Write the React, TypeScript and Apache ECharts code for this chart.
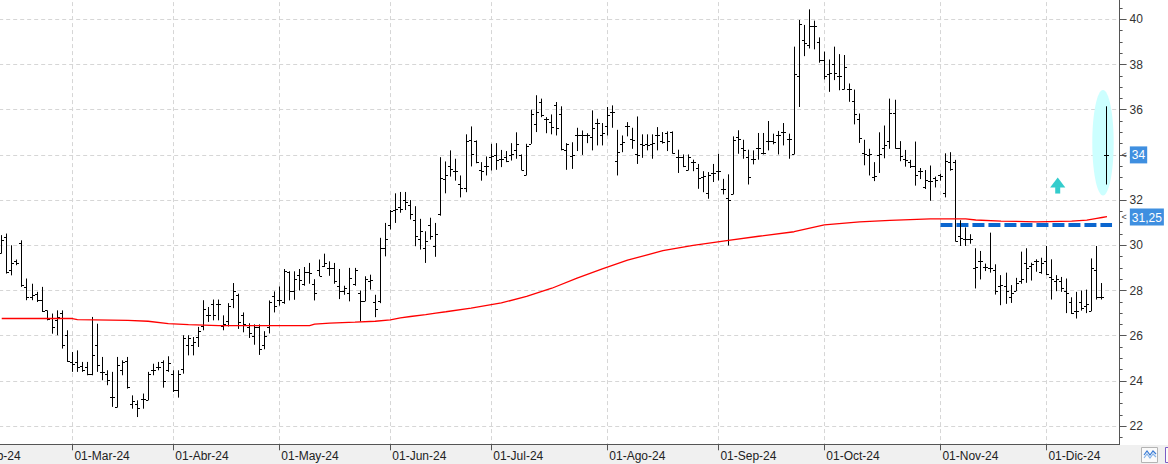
import React, { useEffect, useRef } from "react";
import * as echarts from "echarts";

// ---- OHLC values, one per session (Feb 12 2024 -> Dec 18 2024) ----
const opens = [
  29.65, 30.35, 28.9, 29.3, 30.1, 28.16, 27.71, 27.86, 27.6, 27.12,
  26.8, 26.71, 27.01, 26.02, 24.84, 24.84, 24.66, 24.62, 24.29, 25.58,
  24.4, 24.32, 23.29, 22.85, 24.47, 24.9, 22.96, 22.99, 23.22, 23.14,
  24.47, 24.62, 24.84, 24.47, 24.32, 23.61, 24.54, 25.58, 25.6, 25.94,
  26.42, 26.9, 27.39, 27.39, 26.42, 26.63, 27.62, 27.8, 26.9, 26.4,
  26.0, 26.4, 25.6, 26.4, 27.76, 27.6, 27.5, 28.8, 27.96, 28.7,
  28.3, 28.8, 28.3, 28.9, 29.1, 29.0, 29.0, 28.18, 28.0, 27.9,
  28.3, 27.9, 27.52, 28.4, 27.5, 27.52, 29.88, 30.9, 31.56, 31.7,
  32.0, 31.8, 31.1, 30.3, 29.9, 30.9, 29.96, 31.4, 32.94, 33.53,
  33.3, 32.7, 32.54, 34.64, 34.6, 33.34, 33.53, 33.9, 34.0, 33.8,
  33.9, 34.0, 34.2, 34.0, 33.1, 34.49, 35.38, 36.34, 35.6, 35.45,
  36.2, 35.8, 34.2, 33.95, 34.9, 34.86, 34.86, 34.8, 35.4, 34.9,
  35.3, 35.9, 33.75, 34.5, 35.26, 34.7, 34.02, 34.5, 34.5, 34.5,
  34.9, 34.6, 34.97, 35.0, 33.9, 33.9, 33.34, 33.7, 33.4, 33.0,
  32.3, 33.2, 33.3, 32.5, 32.1, 32.25, 34.8, 34.3, 33.9, 33.8,
  34.3, 34.1, 34.6, 34.6, 34.86, 35.0, 34.7, 34.02, 37.49, 39.1,
  38.86, 39.7, 39.0, 38.2, 37.6, 38.0, 37.5, 36.9, 36.9, 36.4,
  35.6, 34.1, 34.0, 33.0, 34.0, 34.3, 34.6, 35.87, 34.3, 33.8,
  33.67, 33.5, 33.3, 32.56, 32.86, 32.98, 33.1, 32.3, 33.7, 33.7,
  30.4, 30.3, 30.3, 29.0, 29.3, 29.04, 29.0, 28.9, 28.2, 28.2,
  27.7, 28.0, 28.4, 29.2, 29.1, 29.3, 28.83, 29.3, 28.6, 28.4,
  28.4, 28.0, 27.5, 27.1, 27.5, 27.3, 27.1, 28.9, 27.7, 34.0,
];
const highs = [
  30.45, 30.52, 30.0, 29.37, 30.22, 28.53, 28.3, 27.94, 28.16, 27.12,
  26.98, 27.12, 27.12, 26.24, 25.28, 25.35, 24.84, 24.84, 26.83, 26.53,
  25.06, 24.47, 24.4, 25.06, 24.91, 25.06, 23.36, 23.14, 23.44, 24.4,
  24.76, 24.84, 24.91, 25.09, 24.47, 24.47, 26.02, 26.02, 25.94, 26.39,
  27.57, 27.27, 27.6, 27.6, 26.9, 27.44, 28.33, 27.86, 27.03, 26.55,
  26.5, 26.5, 26.2, 27.56, 27.96, 28.18, 28.95, 28.85, 28.85, 28.95,
  29.04, 29.22, 28.5, 29.37, 29.63, 29.29, 29.22, 28.95, 28.21, 29.0,
  29.0, 28.0, 28.63, 28.7, 27.81, 30.33, 30.99, 31.56, 32.3, 32.36,
  32.36, 32.0, 31.73, 31.17, 30.62, 31.22, 30.99, 33.9, 33.71, 34.2,
  33.83, 33.09, 34.91, 35.26, 34.64, 33.68, 33.93, 34.49, 34.52, 34.22,
  34.17, 34.52, 35.0, 34.02, 34.49, 36.0, 36.64, 36.49, 35.67, 35.79,
  36.34, 36.15, 34.52, 34.56, 35.2, 35.08, 34.96, 35.97, 35.6, 35.41,
  36.12, 36.19, 35.11, 34.86, 35.45, 35.2, 35.7, 34.91, 34.91, 34.91,
  35.23, 35.01, 35.04, 35.04, 34.23, 34.02, 34.02, 33.79, 33.6, 33.28,
  33.24, 33.6, 34.05, 32.94, 33.14, 34.82, 35.09, 34.67, 34.23, 34.2,
  34.97, 34.97, 35.5, 34.94, 35.06, 35.41, 34.94, 38.79, 39.97, 39.75,
  40.44, 39.94, 39.2, 38.57, 38.22, 38.79, 38.46, 38.42, 37.16, 36.89,
  35.83, 34.67, 34.27, 33.68, 35.0, 35.3, 36.49, 36.44, 34.61, 34.22,
  33.78, 34.59, 33.42, 33.33, 33.53, 33.04, 33.16, 34.07, 34.12, 33.78,
  31.11, 30.79, 30.49, 29.87, 29.75, 29.19, 30.56, 29.16, 28.68, 28.79,
  28.24, 28.56, 29.72, 29.87, 29.23, 29.38, 29.45, 29.97, 29.38, 28.68,
  28.6, 28.53, 27.7, 27.94, 28.0, 28.04, 29.42, 29.97, 28.33, 36.15,
];
const lows = [
  29.63, 28.75, 28.67, 29.12, 28.16, 27.57, 27.57, 27.49, 27.05, 26.68,
  26.09, 26.02, 25.43, 24.84, 24.4, 24.4, 24.4, 24.25, 24.25, 24.4,
  24.03, 23.81, 22.85, 22.82, 24.25, 23.66, 22.77, 22.4, 22.77, 23.14,
  24.25, 24.47, 23.7, 24.4, 23.51, 23.26, 24.32, 25.13, 25.13, 25.5,
  26.24, 26.61, 26.68, 26.68, 26.24, 26.41, 27.22, 26.3, 26.15, 25.9,
  25.6, 25.15, 25.4, 26.1, 27.03, 27.33, 27.41, 27.56, 27.59, 28.0,
  28.21, 28.3, 27.56, 28.63, 29.04, 28.65, 28.3, 27.62, 27.81, 27.52,
  28.21, 26.63, 27.52, 28.04, 26.82, 27.44, 29.51, 30.7, 30.99, 31.44,
  31.56, 31.14, 29.96, 29.81, 29.22, 30.25, 29.49, 31.31, 32.3, 33.04,
  32.86, 32.12, 32.35, 33.49, 33.63, 32.86, 33.09, 33.31, 33.34, 33.46,
  33.68, 33.75, 33.83, 33.31, 33.09, 34.49, 35.01, 35.67, 34.96, 34.91,
  34.86, 34.2, 33.34, 33.38, 34.17, 34.0, 34.52, 34.2, 34.42, 34.42,
  34.86, 35.2, 33.09, 34.12, 34.82, 34.27, 33.6, 33.87, 34.2, 33.83,
  34.2, 34.5, 34.17, 34.05, 33.2, 33.46, 33.31, 33.28, 32.5, 32.35,
  32.06, 32.8, 32.87, 32.25, 29.99, 32.25, 34.05, 33.83, 32.69, 33.58,
  33.79, 34.02, 34.2, 34.47, 34.02, 34.42, 33.83, 34.02, 36.12, 38.37,
  38.71, 38.67, 38.08, 37.34, 36.79, 37.31, 36.86, 36.89, 36.35, 35.35,
  34.53, 33.54, 33.09, 32.84, 33.2, 33.85, 34.27, 34.27, 33.72, 33.48,
  33.42, 32.64, 32.93, 32.49, 31.97, 32.56, 32.86, 32.12, 33.3, 30.16,
  29.97, 29.97, 30.07, 28.09, 28.49, 28.86, 28.79, 27.82, 27.35, 27.41,
  27.45, 27.97, 28.3, 28.34, 28.44, 28.83, 28.74, 28.68, 27.6, 27.97,
  27.94, 27.0, 26.96, 26.76, 27.11, 27.0, 27.08, 27.6, 27.6, 32.69,
];
const closes = [
  30.22, 28.82, 29.2, 29.2, 28.25, 27.7, 27.79, 27.6, 27.1, 26.75,
  26.4, 26.83, 25.6, 24.9, 24.76, 24.6, 24.5, 24.3, 25.13, 24.7,
  24.4, 24.06, 23.3, 24.7, 24.84, 23.73, 23.1, 22.8, 23.2, 24.32,
  24.5, 24.62, 24.0, 24.8, 23.6, 24.32, 25.9, 25.9, 25.72, 26.2,
  27.2, 26.9, 26.9, 27.39, 26.5, 27.3, 28.0, 26.6, 26.5, 26.1,
  26.4, 25.4, 26.0, 27.5, 27.3, 27.59, 28.85, 27.96, 28.5, 28.48,
  28.8, 28.78, 27.9, 28.65, 29.22, 29.0, 28.4, 28.0, 28.1, 28.55,
  28.9, 27.52, 28.5, 28.48, 27.18, 29.88, 30.3, 31.5, 31.6, 31.6,
  31.9, 31.4, 30.4, 30.62, 30.2, 30.4, 30.52, 32.98, 33.1, 33.38,
  33.3, 32.54, 34.6, 34.05, 33.68, 33.3, 33.5, 33.95, 33.78, 33.8,
  33.75, 34.02, 34.49, 33.31, 34.4, 35.79, 35.9, 35.75, 35.6, 35.25,
  35.2, 34.24, 34.5, 34.0, 34.9, 34.86, 34.9, 35.2, 35.4, 34.96,
  35.75, 35.9, 34.12, 34.56, 35.26, 34.64, 34.0, 34.46, 34.46, 34.52,
  34.9, 34.56, 34.6, 34.1, 33.9, 33.5, 33.9, 33.7, 32.99, 33.05,
  33.1, 33.2, 33.28, 32.5, 32.0, 34.67, 34.72, 34.2, 33.0, 33.8,
  34.3, 34.1, 34.6, 34.55, 34.9, 35.0, 34.7, 37.57, 39.79, 38.96,
  39.7, 39.7, 38.2, 37.49, 37.63, 37.63, 37.5, 37.9, 36.9, 35.8,
  34.76, 34.05, 34.05, 33.05, 34.02, 34.46, 35.87, 34.3, 33.93, 33.78,
  33.53, 33.11, 33.3, 32.9, 32.86, 32.9, 33.08, 33.72, 33.38, 30.19,
  30.34, 30.3, 30.27, 29.04, 29.3, 29.04, 28.98, 28.0, 28.24, 27.97,
  27.9, 28.34, 28.53, 28.98, 29.16, 29.3, 29.2, 28.74, 28.49, 28.49,
  28.12, 27.9, 27.0, 27.08, 27.23, 27.4, 28.98, 27.7, 27.72, 34.0,
];

// ---- moving average (red line), read at session indexes ----
const maPoints: [number, number][] = [
  [0, 26.76], [14, 26.76], [15, 26.71], [25, 26.68], [29, 26.64], [33, 26.53],
  [37, 26.49], [43, 26.45], [61, 26.45], [62, 26.51], [65, 26.56], [70, 26.6],
  [74, 26.64], [77, 26.7], [79, 26.79], [81, 26.85], [84, 26.93], [86, 27.0],
  [88, 27.06], [93, 27.22], [99, 27.45], [104, 27.74], [109, 28.1], [114, 28.55],
  [119, 28.96], [124, 29.34], [131, 29.76], [137, 30.0], [144, 30.22], [150, 30.4],
  [157, 30.6], [163, 30.9], [170, 31.04], [176, 31.1], [184, 31.17], [191, 31.17],
  [193, 31.12], [198, 31.07], [205, 31.04], [212, 31.07], [215, 31.11], [217, 31.19],
  [218, 31.23], [219, 31.27],
];
const maLastLabel = 31.25;
const lastCloseLabel = 34;

// ---- annotations ----
const supportLine: [number, number][] = [[186, 30.9], [220, 30.9]];
const highlightAt: [number, number][] = [[219, 34.54]];
const arrowAt: [number, number][] = [[209, 32.29]];

// ---- calendar of sessions ----
const MONTHS = ["Ene", "Feb", "Mar", "Abr", "May", "Jun", "Jul", "Ago", "Sep", "Oct", "Nov", "Dic"];
const holidays = ["2024-03-29", "2024-04-01", "2024-05-01"];
const firstSession = "2024-02-12";
const emptySessionsAfter = 2;
const yTickMin = 20;
const yTickMax = 42;

function buildSessions(count: number): string[] {
  const out: string[] = [];
  const d = new Date(firstSession + "T00:00:00Z");
  while (out.length < count) {
    const wd = d.getUTCDay();
    const s = d.toISOString().slice(0, 10);
    if (wd !== 0 && wd !== 6 && holidays.indexOf(s) < 0) out.push(s);
    d.setUTCDate(d.getUTCDate() + 1);
  }
  return out;
}

const sessions = buildSessions(opens.length + emptySessionsAfter);
const monthStart = new Set<number>();
sessions.forEach((s, i) => {
  if (i > 0 && s.slice(5, 7) !== sessions[i - 1].slice(5, 7)) monthStart.add(i);
});
const monthLabel = (s: string) => "01-" + MONTHS[parseInt(s.slice(5, 7), 10) - 1] + "-" + s.slice(2, 4);
const ohlcData = opens.map((o, i) => [i, o, highs[i], lows[i], closes[i]]);

const FONT = '"Liberation Sans", Arial, sans-serif';
const GRID_COLOR = "#d6d6d6";
const AXIS_COLOR = "#555";

function buildOption(): any {
  const isStart = (i: number) => monthStart.has(i);
  const boxLabel = (txt: string) => ({
    show: true,
    position: "end",
    distance: 2,
    opacity: 1,
    formatter: "{a|<}{b|" + txt + "}",
    rich: {
      a: { color: "#444", fontSize: 9, fontFamily: FONT, padding: [0, 3, 0, 0], opacity: 1 },
      b: {
        color: "#fff",
        backgroundColor: "#3f8fe0",
        fontSize: 12,
        fontFamily: FONT,
        padding: [3, 2, 2, 2],
        lineHeight: 13,
        opacity: 1,
      },
    },
  });
  return {
    animation: false,
    backgroundColor: "#ffffff",
    textStyle: { fontFamily: FONT },
    grid: {
      left: -0.8,
      top: -25.9,
      width: 1120.4,
      height: 497.2,
      containLabel: false,
      outerBoundsMode: "none",
    },
    xAxis: [
      {
        type: "category",
        data: sessions,
        boundaryGap: true,
        axisLine: { show: false },
        axisTick: { show: false },
        axisLabel: { show: false },
        splitLine: {
          show: true,
          interval: (i: number) => isStart(i),
          alignWithLabel: true,
          lineStyle: { color: GRID_COLOR, type: [4, 3], width: 1 },
        },
        z: 0,
      },
      {
        type: "category",
        data: sessions,
        boundaryGap: true,
        position: "bottom",
        offset: -27,
        z: 10,
        axisLine: { show: true, onZero: false, lineStyle: { color: AXIS_COLOR, width: 1 } },
        axisTick: {
          show: true,
          alignWithLabel: true,
          interval: (i: number) => isStart(i),
          length: 6,
          lineStyle: { color: AXIS_COLOR },
        },
        axisLabel: {
          show: true,
          interval: (i: number) => isStart(i),
          formatter: (v: string) => monthLabel(v),
          align: "left",
          margin: 6,
          padding: [0, 0, 0, 2],
          color: "#222",
          fontSize: 12,
          fontFamily: FONT,
        },
        splitLine: { show: false },
      },
    ],
    yAxis: {
      type: "value",
      position: "right",
      min: yTickMin,
      max: yTickMax,
      interval: 2,
      z: 0,
      axisLine: { show: true, lineStyle: { color: AXIS_COLOR, width: 1 } },
      axisTick: { show: true, length: 7, lineStyle: { color: AXIS_COLOR } },
      minorTick: { show: true, splitNumber: 4, length: 3, lineStyle: { color: AXIS_COLOR } },
      axisLabel: {
        margin: 10,
        color: "#333",
        fontSize: 12,
        fontFamily: FONT,
        formatter: (v: number) => (v > yTickMin && v < yTickMax ? String(v) : ""),
      },
      splitLine: { show: true, lineStyle: { color: GRID_COLOR, type: [4, 3], width: 1 } },
    },
    series: [
      {
        type: "custom",
        name: "highlight",
        z: 1,
        silent: true,
        data: highlightAt,
        encode: { x: 0, y: 1 },
        renderItem: (_p: any, api: any) => {
          const pt = api.coord([api.value(0), api.value(1)]);
          return {
            type: "ellipse",
            shape: { cx: pt[0] - 4, cy: pt[1], rx: 10.7, ry: 52.7 },
            style: { fill: "#ccffff" },
          };
        },
      },
      {
        type: "custom",
        name: "arrow",
        z: 1,
        silent: true,
        data: arrowAt,
        encode: { x: 0, y: 1 },
        renderItem: (_p: any, api: any) => {
          const pt = api.coord([api.value(0), api.value(1)]);
          const x = pt[0] + 1.2;
          const yb = pt[1];
          return {
            type: "group",
            children: [
              {
                type: "polygon",
                shape: { points: [[x - 7.6, yb - 6], [x, yb - 16], [x + 7.6, yb - 6]] },
                style: { fill: "#33cccc" },
              },
              { type: "rect", shape: { x: x - 2.5, y: yb - 6.5, width: 5, height: 6.5 }, style: { fill: "#33cccc" } },
            ],
          };
        },
      },
      {
        type: "line",
        name: "support",
        z: 2,
        silent: true,
        symbol: "none",
        data: supportLine,
        lineStyle: { color: "#0b66cf", width: 4, type: [12, 4], cap: "butt" },
      },
      {
        type: "custom",
        name: "OHLC",
        z: 3,
        silent: true,
        clip: false,
        data: ohlcData,
        encode: { x: 0, y: [1, 2, 3, 4] },
        renderItem: (_p: any, api: any) => {
          const i = api.value(0);
          const pO = api.coord([i, api.value(1)]);
          const pH = api.coord([i, api.value(2)]);
          const pL = api.coord([i, api.value(3)]);
          const pC = api.coord([i, api.value(4)]);
          const c = Math.floor(pO[0]);
          const x = c + 0.5;
          const yO = Math.round(pO[1]) + 0.5;
          const yC = Math.round(pC[1]) + 0.5;
          const st = { stroke: "#000", lineWidth: 1 };
          return {
            type: "group",
            children: [
              { type: "line", shape: { x1: x, y1: pH[1], x2: x, y2: pL[1] }, style: st },
              { type: "line", shape: { x1: c - 2, y1: yO, x2: c, y2: yO }, style: st },
              { type: "line", shape: { x1: c + 1, y1: yC, x2: c + 3, y2: yC }, style: st },
            ],
          };
        },
      },
      {
        type: "line",
        name: "MA",
        z: 4,
        silent: true,
        clip: false,
        symbol: "none",
        data: maPoints,
        lineStyle: { color: "#ff0000", width: 1.3 },
        markLine: {
          silent: true,
          symbol: ["none", "none"],
          animation: false,
          lineStyle: { color: "rgba(0,0,0,0)", width: 1, opacity: 1 },
          data: [
            { yAxis: maLastLabel, label: boxLabel("31,25") },
            { yAxis: lastCloseLabel, label: boxLabel(String(lastCloseLabel)) },
          ],
        },
      },
    ],
    graphic: [
      {
        type: "rect",
        z: 5,
        silent: true,
        shape: { x: 0, y: 445, width: 1168, height: 19 },
        style: { fill: "#f0f0f0" },
      },
      {
        type: "text",
        z: 11,
        silent: true,
        x: 20.7,
        y: 450.3,
        style: {
          text: "01-Feb-24",
          align: "right",
          textAlign: "right",
          verticalAlign: "top",
          fill: "#222",
          font: "12px " + FONT,
        },
      },
      {
        type: "rect",
        z: 11,
        silent: true,
        shape: { x: 1141.5, y: 447.5, width: 16, height: 15 },
        style: { fill: "#fafafa", stroke: "#b4b4b4", lineWidth: 1 },
      },
      {
        type: "polyline",
        z: 12,
        silent: true,
        shape: { points: [[1144, 455], [1147, 451], [1150, 455], [1153, 451], [1156, 454]] },
        style: { stroke: "#3a7bd5", lineWidth: 1.2, fill: "none" },
      },
      {
        type: "polyline",
        z: 12,
        silent: true,
        shape: { points: [[1144, 458], [1147, 454], [1150, 458], [1153, 454], [1156, 457]] },
        style: { stroke: "#86b4ea", lineWidth: 1.2, fill: "none" },
      },
      {
        type: "rect",
        z: 11,
        silent: true,
        shape: { x: 1165.5, y: 447.5, width: 10, height: 15 },
        style: { fill: "#fafafa", stroke: "#7b5cc4", lineWidth: 1 },
      },
    ],
  };
}

export default function App() {
  const ref = useRef<HTMLDivElement>(null);
  useEffect(() => {
    document.body.style.margin = "0";
    const chart = echarts.init(ref.current as HTMLDivElement, null, { renderer: "svg" });
    chart.setOption(buildOption());
    return () => chart.dispose();
  }, []);
  return <div ref={ref} style={{ width: 1168, height: 464, overflow: "hidden" }} />;
}
